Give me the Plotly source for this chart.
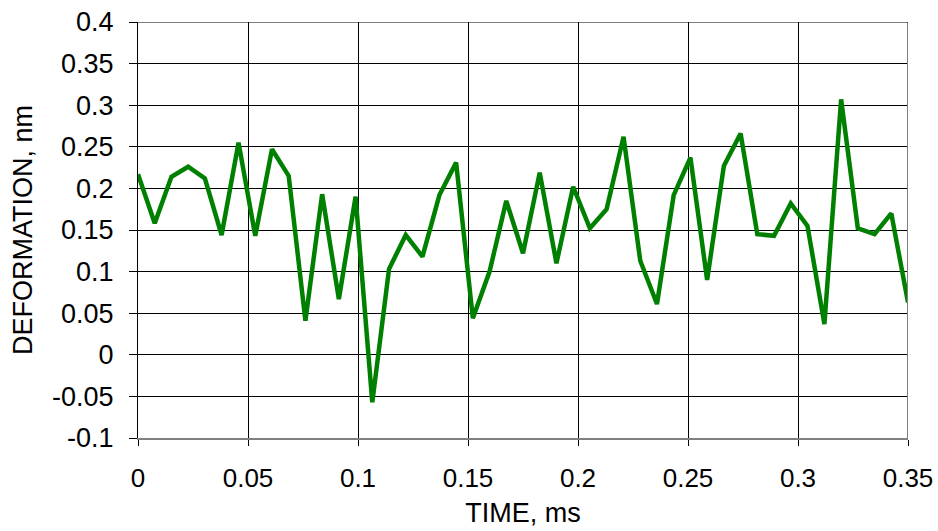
import plotly.graph_objects as go

# time samples (ms) and measured deformation (nm)
time_ms = [0.0, 0.0076, 0.0152, 0.0228, 0.0304, 0.0380, 0.0457, 0.0533, 0.0609, 0.0685,
           0.0761, 0.0837, 0.0913, 0.0989, 0.1065, 0.1141, 0.1217, 0.1293, 0.1370, 0.1446,
           0.1522, 0.1598, 0.1674, 0.1750, 0.1826, 0.1902, 0.1978, 0.2054, 0.2130, 0.2207,
           0.2283, 0.2359, 0.2435, 0.2511, 0.2587, 0.2663, 0.2739, 0.2815, 0.2891, 0.2967,
           0.3043, 0.3120, 0.3196, 0.3272, 0.3348, 0.3424, 0.3500]
deformation = [0.217, 0.158, 0.214, 0.226, 0.212, 0.144, 0.255, 0.143, 0.247, 0.215,
               0.041, 0.193, 0.067, 0.190, -0.057, 0.103, 0.144, 0.118, 0.192, 0.231,
               0.044, 0.100, 0.185, 0.122, 0.219, 0.110, 0.202, 0.152, 0.175, 0.262,
               0.113, 0.061, 0.192, 0.237, 0.090, 0.227, 0.266, 0.145, 0.143, 0.182,
               0.155, 0.037, 0.307, 0.152, 0.145, 0.170, 0.063]

x_ticks = [0, 0.05, 0.1, 0.15, 0.2, 0.25, 0.3, 0.35]
x_labels = ["0", "0.05", "0.1", "0.15", "0.2", "0.25", "0.3", "0.35"]
y_ticks = [-0.1, -0.05, 0, 0.05, 0.1, 0.15, 0.2, 0.25, 0.3, 0.35, 0.4]
y_labels = ["-0.1", "-0.05", "0", "0.05", "0.1", "0.15", "0.2", "0.25", "0.3", "0.35", "0.4"]

fig = go.Figure()
fig.add_trace(go.Scatter(x=time_ms, y=deformation, mode="lines",
                         line=dict(color="#008000", width=4.5), showlegend=False))

family = "Liberation Sans, Arial, sans-serif"
title_font = dict(family=family, size=27, color="black")
xtick_font = dict(family=family, size=26, color="black")
ytick_font = dict(family=family, size=27, color="black")

fig.update_layout(
    width=938, height=531,
    margin=dict(l=138, r=30, t=22, b=93, autoexpand=False),
    paper_bgcolor="white", plot_bgcolor="white",
    font=title_font,
    xaxis=dict(range=[0, 0.35], tickvals=x_ticks, ticktext=x_labels, tickfont=xtick_font,
               showgrid=True, gridcolor="black", gridwidth=1, zeroline=False,
               showline=True, linecolor="#808080", linewidth=2,
               ticks="outside", ticklen=6, tickcolor="black", automargin=False,
               ticklabelstandoff=10, ticklabeloverflow="allow",
               title=dict(text="TIME, ms", font=title_font, standoff=11)),
    yaxis=dict(range=[-0.1, 0.4], tickvals=y_ticks, ticktext=y_labels, tickfont=ytick_font,
               showgrid=True, gridcolor="black", gridwidth=1, zeroline=False,
               showline=True, linecolor="black", linewidth=1,
               ticks="outside", ticklen=8, tickcolor="black", automargin=False,
               ticklabelstandoff=10, ticklabeloverflow="allow",
               title=dict(text="DEFORMATION, nm", font=title_font, standoff=11)),
)

# plot frame: gray right edge, black top gridline
fig.add_shape(type="line", xref="x", yref="y", x0=0.35, x1=0.35, y0=-0.1, y1=0.4,
              line=dict(color="#808080", width=2))
fig.add_shape(type="line", xref="x", yref="y", x0=0, x1=0.35, y0=0.4, y1=0.4,
              line=dict(color="black", width=1))

# drop the default 8px body margin so the figure fills the window exactly
fig.write_html("out.html", config={"displayModeBar": False},
               post_script="document.body.style.margin='0';")
